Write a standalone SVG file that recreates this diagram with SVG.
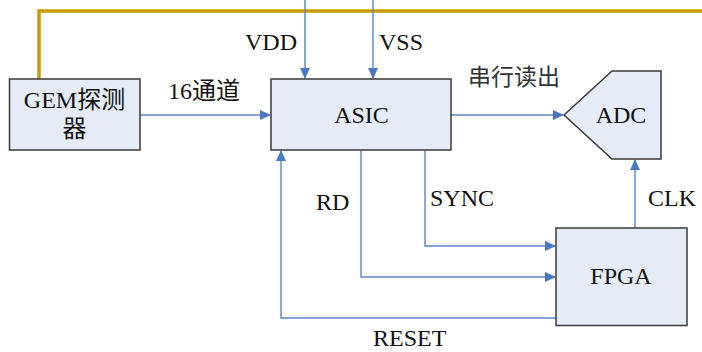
<svg xmlns="http://www.w3.org/2000/svg" width="702" height="352" viewBox="0 0 702 352">
<defs>
<style>
.box{fill:#E6ECF7;stroke:#3a3a3a;stroke-width:1.5}
.ln{fill:none;stroke:#5B86C8;stroke-width:1.4}
.gold{fill:none;stroke:#CC9A06;stroke-width:3.5}
.t{font-family:"Liberation Serif","Noto Sans CJK SC",serif;font-size:24px;fill:#111}
.c{text-anchor:middle}
.cjk{font-family:"Noto Sans CJK SC",sans-serif;font-size:23px;fill:#333}
</style>
<marker id="ah" markerWidth="11" markerHeight="10" refX="10" refY="5" orient="auto" markerUnits="userSpaceOnUse">
<path d="M0,0 L11,5 L0,10 Z" fill="#4A78C2"/>
</marker>
</defs>
<rect width="702" height="352" fill="#fff"/>
<g id="connectors">
<path class="gold" d="M39,79 V11 H702"/>
<path class="ln" d="M305,0 V78" marker-end="url(#ah)"/>
<path class="ln" d="M373,0 V78" marker-end="url(#ah)"/>
<path class="ln" d="M140,115 H270" marker-end="url(#ah)"/>
<path class="ln" d="M451,115 H563" marker-end="url(#ah)"/>
<path class="ln" d="M425,150 V246 H555" marker-end="url(#ah)"/>
<path class="ln" d="M361,150 V277 H555" marker-end="url(#ah)"/>
<path class="ln" d="M556,318 H281 V151" marker-end="url(#ah)"/>
<path class="ln" d="M635,228 V160" marker-end="url(#ah)"/>
<text class="t" x="245" y="50">VDD</text>
<text class="t" x="379" y="50">VSS</text>
<text class="t" x="168" y="99">16通道</text>
<text class="cjk" x="468" y="85">串行读出</text>
<text class="t" x="316" y="210">RD</text>
<text class="t" x="430" y="206">SYNC</text>
<text class="t" x="648" y="206">CLK</text>
<text class="t" x="373" y="346">RESET</text>
</g>
<g id="gem">
<rect class="box" x="9.5" y="79" width="130.5" height="71"/>
<text class="t c" x="74.5" y="108">GEM探测</text>
<text class="t c" x="74.5" y="137">器</text>
</g>
<g id="asic">
<rect class="box" x="271" y="79" width="180" height="71"/>
<text class="t c" x="361.5" y="123">ASIC</text>
</g>
<g id="adc">
<path class="box" d="M564,115 L612,71 H661 V159 H612 Z"/>
<text class="t c" x="621" y="123">ADC</text>
</g>
<g id="fpga">
<rect class="box" x="556" y="228" width="131" height="97.5"/>
<text class="t c" x="621" y="284">FPGA</text>
</g>
</svg>
